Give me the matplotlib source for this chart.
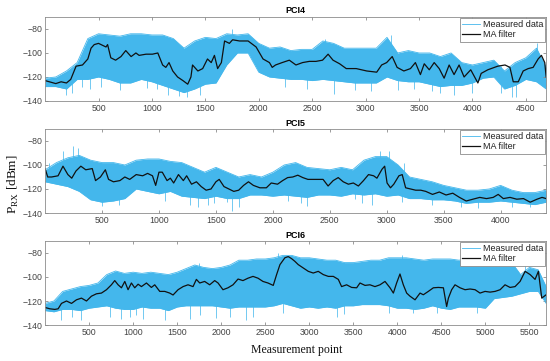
import numpy as np
import matplotlib
matplotlib.use('Agg')
import matplotlib.pyplot as plt

plt.rcParams['font.family'] = ['Liberation Sans', 'DejaVu Sans']
plt.rcParams['mathtext.fontset'] = 'custom'
plt.rcParams['mathtext.rm'] = 'Liberation Serif'

# ---- PCI4 ----
x4_ma = [0, 100, 150, 200, 240, 290, 350, 400, 430, 460,
         500, 570, 585, 615, 660, 710, 755, 805, 850, 880,
         945, 1005, 1055, 1100, 1130, 1160, 1195, 1240, 1290, 1335,
         1365, 1380, 1430, 1475, 1520, 1555, 1585, 1615, 1650, 1680,
         1725, 1755, 1820, 1900, 1975, 2040, 2100, 2126, 2157, 2219,
         2286, 2348, 2410, 2473, 2535, 2597, 2649, 2695, 2757, 2819,
         2912, 3011, 3104, 3150, 3197, 3249, 3295, 3358, 3420, 3466,
         3513, 3549, 3596, 3642, 3689, 3735, 3782, 3828, 3875, 3922,
         3984, 4051, 4082, 4144, 4237, 4305, 4351, 4382, 4429, 4475,
         4522, 4568, 4615, 4646, 4677, 4690]
y4_ma = [-123, -125.5, -124, -125, -122, -111, -110, -105, -96, -93,
         -92, -95, -93, -104, -106, -103, -98, -103, -100, -102,
         -101, -101, -100, -110, -112, -108, -115, -120, -123, -126,
         -120, -110, -115, -113, -105, -108, -102, -113, -108, -90,
         -92, -89, -90, -90, -95, -105, -108, -112, -110, -108,
         -106, -110, -108, -107, -107, -106, -101, -106, -109, -113,
         -113, -115, -116, -110, -108, -103, -112, -115, -113, -108,
         -118, -109, -114, -108, -113, -121, -110, -118, -110, -120,
         -114, -125, -117, -114, -111, -110, -112, -124, -124, -115,
         -113, -112, -105, -102, -108, -120]
x4_env = list(range(0, 4700, 100)) + [4690]
up4 = [-121, -120, -115, -108, -88, -84, -85, -86, -84, -84,
       -85, -85, -88, -96, -90, -87, -88, -84, -85, -84,
       -92, -96, -95, -98, -97, -97, -90, -92, -96, -96,
       -96, -96, -87, -100, -98, -100, -100, -103, -100, -108,
       -110, -108, -106, -115, -108, -104, -96, -112]
lo4 = [-128, -128, -130, -122, -122, -120, -122, -125, -125, -122,
       -124, -127, -130, -133, -130, -126, -125, -110, -100, -100,
       -116, -120, -121, -122, -122, -123, -122, -123, -124, -125,
       -125, -125, -120, -123, -124, -124, -126, -128, -127, -127,
       -125, -121, -120, -130, -127, -122, -124, -130]
sp4_x = [200, 250, 350, 420, 520, 700, 950, 1050, 1150, 1250,
         1330, 1450, 1750, 2250, 2450, 2620, 2700, 2900, 3050, 3240,
         3300, 3450, 3620, 3700, 3830, 4000, 4270, 4370, 4410, 4600]
sp4_y = [-135, -133, -128, -130, -128, -131, -129, -130, -135, -136,
         -137, -135, -80, -128, -130, -88, -134, -131, -132, -85,
         -131, -130, -132, -133, -135, -133, -133, -137, -137, -92]

# ---- PCI5 ----
x5_ma = [0, 23, 57, 114, 157, 200, 234, 271, 314, 357,
         414, 443, 486, 529, 557, 600, 657, 700, 743, 800,
         857, 900, 943, 971, 1000, 1029, 1071, 1100, 1129, 1171,
         1214, 1243, 1286, 1329, 1371, 1414, 1457, 1500, 1529, 1571,
         1614, 1657, 1700, 1743, 1786, 1829, 1886, 1943, 1986,
         2041, 2086, 2130, 2175, 2219, 2263, 2308, 2352, 2396, 2441,
         2485, 2530, 2574, 2618, 2663, 2707, 2751, 2796, 2840, 2885,
         2914, 2959, 2982, 3003, 3033, 3062, 3107, 3136, 3166, 3210,
         3254, 3299, 3343, 3402, 3462, 3521, 3580, 3639, 3698, 3757,
         3817, 3876, 3935, 3979, 4024, 4083, 4142, 4201, 4260, 4320,
         4364, 4400]
y5_ma = [-103, -110, -110, -109, -101, -108, -111, -105, -101, -104,
         -103, -113, -110, -104, -112, -114, -113, -110, -112, -108,
         -109, -107, -109, -117, -106, -106, -113, -111, -115, -108,
         -113, -109, -116, -114, -118, -121, -120, -114, -112, -118,
         -120, -122, -121, -117, -114, -117, -119, -119, -115,
         -116, -113, -110.5, -110, -108.5, -110.5, -112, -112, -112, -112,
         -117.5, -113, -110.5, -114, -116, -115, -117.5, -113, -108, -109,
         -111, -103.5, -101, -115, -119, -116, -109, -108, -119, -120,
         -121, -121, -122, -124.5, -122.5, -125, -123.5, -127, -130, -128.5,
         -127, -128, -127, -124.5, -128, -127, -128.5, -128, -131, -128.5,
         -127, -128]
x5_env = list(range(0, 4500, 100))
up5 = [-104, -98, -94, -92, -96, -98, -98, -100, -96, -95,
       -95, -97, -98, -102, -106, -102, -106, -110, -108, -110,
       -106, -100, -98, -102, -103, -104, -102, -104, -96, -93,
       -93, -100, -110, -112, -114, -117, -119, -121, -121, -120,
       -117, -121, -123, -123, -121]
lo5 = [-114, -116, -118, -122, -129, -131, -130, -128, -120, -122,
       -124, -122, -126, -127, -128, -126, -128, -128, -125, -125,
       -126, -125, -126, -127, -125, -125, -126, -124, -125, -124,
       -126, -125, -128, -128, -129, -129, -130, -132, -131, -131,
       -130, -131, -132, -133, -131]
sp5_x = [30, 157, 243, 286, 500, 650, 1050, 1271, 1343, 1429,
         1486, 1600, 1643, 1700, 2130, 2248, 2300, 2720, 2780, 2870,
         2940, 3020, 3136, 3150, 3400, 3650, 3800, 4100, 4260]
sp5_y = [-98, -88, -84, -86, -134, -133, -130, -133, -135, -133,
         -132, -131, -138, -135, -130, -132, -134, -128, -132, -133,
         -88, -88, -131, -98, -133, -135, -136, -135, -135]

# ---- PCI6 ----
x6_ma = [0, 54, 110, 148, 186, 243, 300, 356, 413, 470,
         526, 583, 640, 697, 753, 791, 829, 867, 905, 942,
         980, 1018, 1056, 1094, 1151, 1207, 1245, 1302, 1359, 1415,
         1453, 1510, 1567, 1623, 1680, 1718, 1756, 1812, 1869, 1926,
         1964, 2020, 2077, 2134, 2191, 2247, 2304, 2361, 2418, 2474,
         2531, 2591,
         2629, 2667, 2723, 2761, 2799, 2837, 2875, 2932, 2989, 3045,
         3102, 3159, 3216, 3273, 3330, 3367, 3424, 3481, 3538, 3576,
         3633, 3689, 3746, 3803, 3860, 3917, 3955, 3992, 4030, 4068,
         4106, 4144, 4201, 4258, 4295, 4352, 4409, 4466, 4523, 4560,
         4580, 4617, 4655, 4712, 4769, 4826, 4883, 4939, 4996, 5053,
         5110, 5167, 5223, 5280, 5337, 5394, 5451, 5508, 5564, 5602,
         5640, 5690]
y6_ma = [-125.4, -126.5, -127, -126.5, -122, -120, -122, -119, -117.6, -120,
         -116, -114, -113.4, -110.6, -106.5, -103, -106.5, -109, -103.7, -110.6,
         -105, -109, -106, -108, -105, -108.7, -106.5, -112, -112, -113.4,
         -115, -110.6, -108, -106.5, -108, -102, -105, -103.7, -106.5, -103,
         -105, -110.6, -109, -106.5, -101.7, -103, -101, -99.5, -101, -103.7,
         -105, -107,
         -98, -89.7, -84, -83, -84.7, -87, -89.7, -92.5, -95.3, -96.7,
         -95.3, -98, -99.5, -99.5, -102, -108, -106.5, -108.7, -109, -105,
         -107, -106.5, -108, -106.5, -103.7, -109, -113.4, -105, -97.5, -106.5,
         -113.4, -116, -119, -113.4, -114.8, -112, -109, -108.7, -109, -124.6,
         -117.6, -110.6, -106.5, -109, -110.6, -110, -110.6, -113.4, -112, -112.6,
         -112, -110.6, -106.5, -108.7, -108, -103.7, -95.3, -98, -102, -95.3,
         -117.6, -114.8]
x6_env = list(range(0, 5700, 100)) + [5690]
up6 = [-122, -120, -112, -110, -108, -107, -105, -98, -95, -97,
       -96, -97, -96, -97, -98, -96, -93, -90, -92, -93,
       -92, -90, -86, -86, -85, -85, -84, -82, -82, -84,
       -84, -85, -86, -86, -88, -88, -87, -86, -86, -84,
       -84, -84, -85, -86, -85, -85, -85, -86, -85, -86,
       -86, -86, -86, -88, -98, -92, -94, -108]
lo6 = [-128, -129, -127, -127, -128, -126, -125, -124, -126, -127,
       -127, -125, -126, -126, -128, -125, -124, -124, -124, -124,
       -125, -126, -125, -125, -125, -125, -124, -122, -124, -126,
       -125, -126, -125, -126, -124, -124, -123, -123, -123, -124,
       -126, -126, -127, -126, -124, -126, -127, -125, -125, -125,
       -126, -118, -117, -116, -114, -112, -112, -122]
sp6_x = [186, 300, 413, 734, 867, 961, 1037, 1113, 1359, 1642,
         1750, 1756, 1945, 2096, 2285, 2361, 2650, 2700, 3310, 3400,
         3900, 4050, 4180, 4450, 4900, 5450]
sp6_y = [-136, -133, -136, -133, -135, -133, -132, -135, -136, -135,
         -88, -132, -134, -133, -136, -133, -80, -130, -133, -131,
         -130, -82, -130, -130, -130, -90]

panels = [('PCI4', x4_ma, y4_ma, x4_env, up4, lo4, sp4_x, sp4_y, 4690),
          ('PCI5', x5_ma, y5_ma, x5_env, up5, lo5, sp5_x, sp5_y, 4400),
          ('PCI6', x6_ma, y6_ma, x6_env, up6, lo6, sp6_x, sp6_y, 5690)]

blue = '#44b7ec'
gray = '#8c8c8c'

fig, axes = plt.subplots(3, 1, figsize=(5.5, 3.61), dpi=100)
plt.subplots_adjust(left=0.082, right=0.993, top=0.953, bottom=0.0997, hspace=0.333)

for ax, (name, xm, ym, xe, up, lo, sx, sy, xmax) in zip(axes, panels):
    ax.fill_between(xe, lo, up, color=blue, lw=0)
    # isolated deep/high samples, drawn from the MA level out to the read value
    base = np.interp(sx, xm, ym)
    ax.vlines(sx, base, sy, color=blue, lw=0.7, alpha=0.75)
    ax.plot(xe, up, color=blue, lw=0.6, label='Measured data')
    ax.plot(xe, lo, color=blue, lw=0.6)
    ax.plot(xm, ym, color='#111111', lw=0.9, label='MA filter')
    ax.set_xlim(0, xmax)
    ax.set_ylim(-140, -70)
    ax.set_yticks([-140, -120, -100, -80])
    ax.set_xticks(np.arange(500, xmax, 500))
    ax.tick_params(direction='in', length=2.5, width=0.6, top=True, right=True,
                   labelsize=6.3, colors='#444444', pad=2)
    ax.tick_params(axis='both', which='both', color=gray)
    for s in ax.spines.values():
        s.set_color(gray)
        s.set_linewidth(0.6)
    ax.set_title(name, fontsize=6.5, fontweight='bold', pad=2.5)
    leg = ax.legend(loc='upper right', fontsize=6.5, fancybox=False, framealpha=1,
                    edgecolor=gray, borderpad=0.25, handlelength=2.0,
                    handletextpad=0.3, labelspacing=0.15, borderaxespad=0.1)
    leg.get_frame().set_linewidth(0.6)
    for t in leg.get_texts():
        t.set_color('#222222')

fig.text(0.025, 0.49, r'P$_{\rm RX}$ [dBm]', rotation=90, va='center', ha='center',
         fontsize=9.5, family='Liberation Serif', color='#111111')
fig.text(0.54, 1 - 350 / 361, 'Measurement point', ha='center', va='center',
         fontsize=8.5, family='Liberation Serif', color='#111111')

plt.savefig('out.png', dpi=100)
